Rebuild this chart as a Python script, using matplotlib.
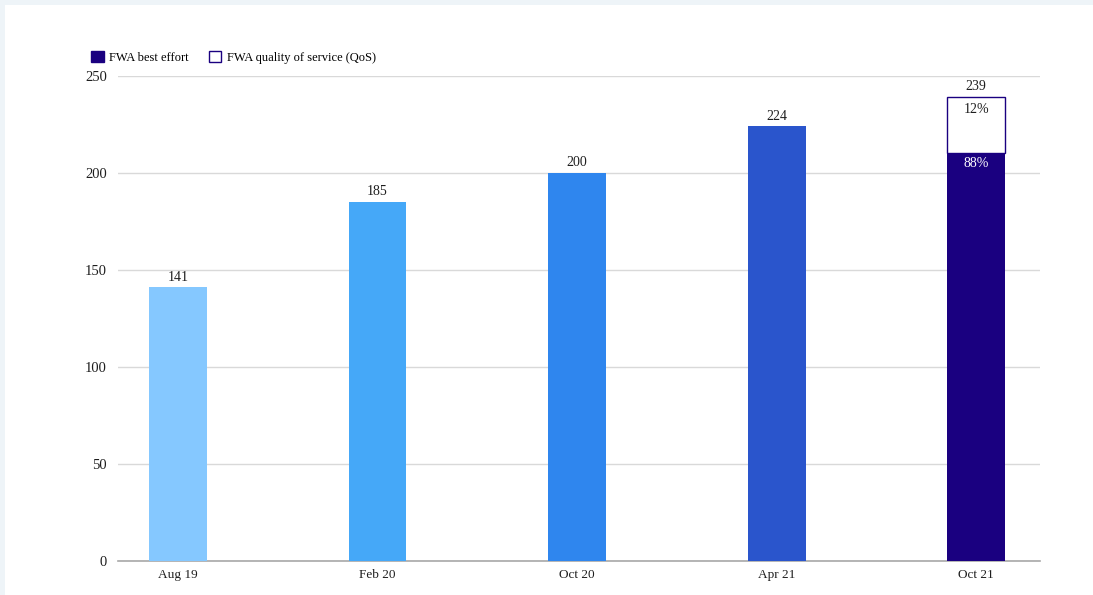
import matplotlib.pyplot as plt
from matplotlib.patches import Rectangle, Patch

categories = ["Aug 19", "Feb 20", "Oct 20", "Apr 21", "Oct 21"]
totals = [141, 185, 200, 224, 239]
bar_colors = ["#85C8FF", "#45A8F8", "#2F86EE", "#2A55CC", "#1A0080"]
best_effort_share = 0.88
qos_share = 0.12
y_ticks = [0, 50, 100, 150, 200, 250]

plt.rcParams["font.family"] = ["Liberation Serif", "DejaVu Serif"]

fig = plt.figure(figsize=(10.93, 5.95), dpi=100)
fig.patch.set_facecolor("#EEF4F8")
# white card behind the chart
fig.add_artist(Rectangle((5 / 1093, 0), 1.0, 1 - 5 / 595, transform=fig.transFigure,
                         facecolor="white", edgecolor="none", zorder=0))

ax = fig.add_axes([118 / 1093, 34 / 595, 922 / 1093, 485 / 595])
ax.set_facecolor("none")

x = list(range(len(categories)))
width = 0.29
last = len(categories) - 1
label_color = "#1E1E1E"

# single-colour bars for earlier periods
for i in range(last):
    ax.bar(x[i], totals[i], width=width, color=bar_colors[i], zorder=3)
    ax.text(x[i], totals[i] + 2, str(totals[i]), ha="center", va="bottom",
            fontsize=10, color=label_color)

# last period split into best effort and QoS
be = totals[last] * best_effort_share
qos = totals[last] - be
ax.bar(x[last], be, width=width, color=bar_colors[last], zorder=3)
ax.bar(x[last], qos, bottom=be, width=width, facecolor="white",
       edgecolor=bar_colors[last], linewidth=1.0, zorder=3)
ax.text(x[last], totals[last] + 2, str(totals[last]), ha="center", va="bottom",
        fontsize=10, color=label_color)
ax.text(x[last], totals[last] - 3, f"{round(qos_share * 100)}%", ha="center", va="top",
        fontsize=10, color=label_color, zorder=4)
ax.text(x[last], be - 2, f"{round(best_effort_share * 100)}%", ha="center", va="top",
        fontsize=10, color="white", zorder=4)

ax.set_xlim(-0.3, 4.32)
ax.set_ylim(0, 250)
ax.set_yticks(y_ticks)
ax.set_xticks(x)
ax.set_xticklabels(categories)
ax.tick_params(axis="x", length=0, labelsize=9.5, colors=label_color, pad=6)
ax.tick_params(axis="y", length=0, labelsize=10.5, colors=label_color, pad=8)
ax.grid(axis="y", color="#D9D9D9", linewidth=1.0, zorder=0)
for s in ["top", "right", "left"]:
    ax.spines[s].set_visible(False)
ax.spines["bottom"].set_color("#A8A8A8")
ax.spines["bottom"].set_linewidth(1.2)

handles = [Patch(facecolor=bar_colors[last], edgecolor=bar_colors[last]),
           Patch(facecolor="white", edgecolor=bar_colors[last])]
fig.legend(handles, ["FWA best effort", "FWA quality of service (QoS)"],
           loc="upper left", bbox_to_anchor=(86 / 1093, 1 - 46 / 595), ncol=2,
           frameon=False, handlelength=1.0, handleheight=1.0,
           handletextpad=0.45, columnspacing=1.6, borderaxespad=0,
           prop={"size": 9})

fig.savefig("out.png", dpi=100, facecolor=fig.get_facecolor())
